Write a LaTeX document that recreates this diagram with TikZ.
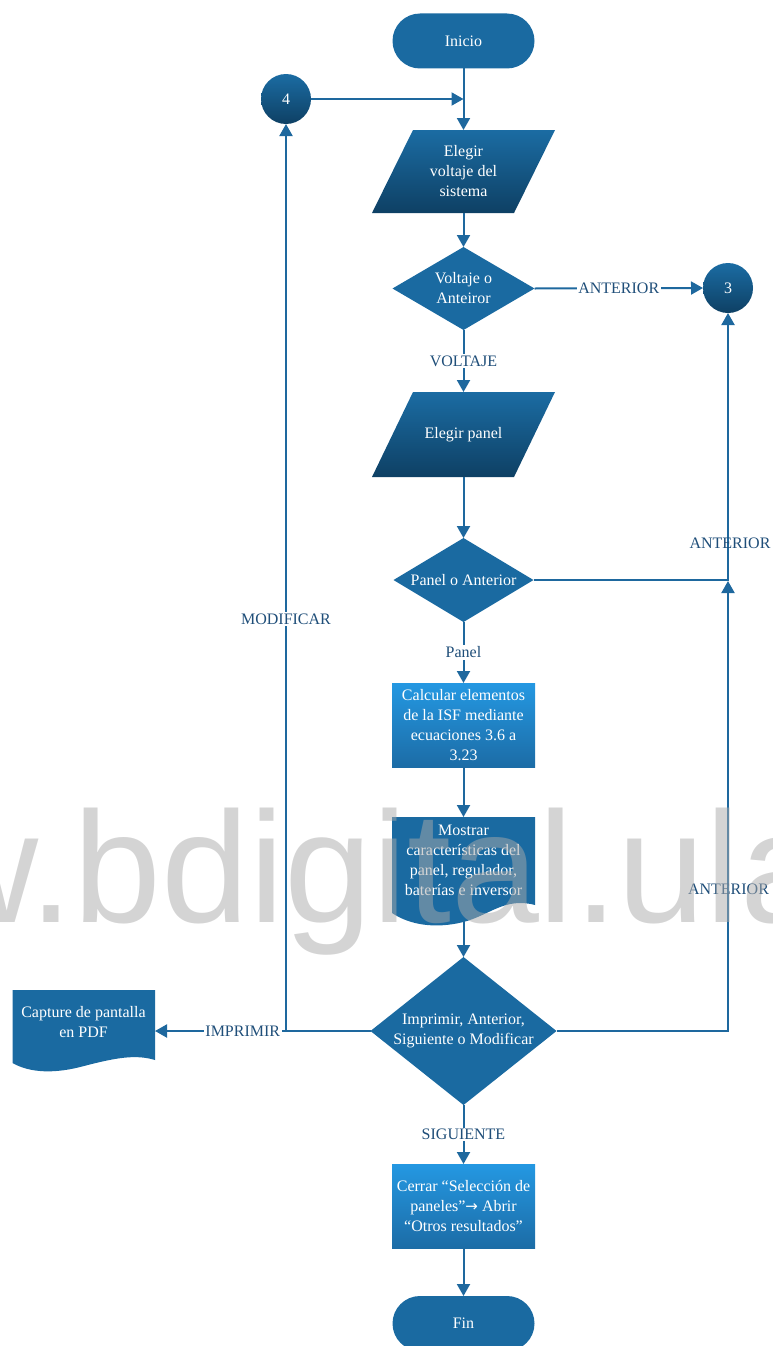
\documentclass[tikz,border=0pt]{standalone}
\usepackage{fontspec}
\setmainfont{Liberation Serif}
\newfontfamily\wmfont{Liberation Sans}
\newfontfamily\symfont{DejaVu Sans}
\usetikzlibrary{arrows.meta,backgrounds}
\definecolor{fblue}{RGB}{26,106,161}
\definecolor{gtop}{RGB}{27,108,163}
\definecolor{gbot}{RGB}{14,64,100}
\definecolor{btop}{RGB}{36,152,226}
\definecolor{bbot}{RGB}{28,108,166}
\definecolor{lblue}{RGB}{30,104,158}
\definecolor{lbl}{RGB}{31,78,121}
\definecolor{wm}{RGB}{170,170,170}
\begin{document}
\begin{tikzpicture}[x=1pt,y=-1pt,
  every node/.style={font=\fontsize{16}{20}\selectfont, align=center, inner sep=0pt, outer sep=0pt},
  txt/.style={text=white},
  term/.style={txt, rectangle, rounded corners=27.5pt, fill=fblue, minimum width=142pt, minimum height=55pt},
  conn/.style={txt, circle, minimum size=50pt, top color=gtop, bottom color=gbot},
  holder/.style={txt, rectangle, draw=none},
  gradbox/.style={txt, rectangle, minimum width=143pt, minimum height=84pt, top color=btop, bottom color=bbot},
  arr/.style={draw=lblue, line width=2pt, -{Triangle[width=13pt,length=12pt]}},
  ln/.style={draw=lblue, line width=2pt},
  lab/.style={text=lbl, fill=white, inner sep=1.5pt}
]
\useasboundingbox (0,0) rectangle (772,1346);

% nodes
\node[term] (ini) at (463.5,41) {Inicio};
\node[conn] (c4) at (286,99) {4};
\node[conn] (c3) at (728,288) {3};
\node[holder, minimum width=183pt, minimum height=83pt] (p1) at (463.5,171.5) {Elegir\\voltaje del\\sistema};
\node[holder, minimum width=142pt, minimum height=83pt] (d1) at (463.5,288.5) {Voltaje o\\Anteiror};
\node[holder, minimum width=183pt, minimum height=85pt] (p2) at (463.5,434.5) {Elegir panel};
\node[holder, minimum width=140pt, minimum height=84pt] (d2) at (463.5,580) {Panel o Anterior};
\node[gradbox] (r1) at (463.5,725) {Calcular elementos\\de la ISF mediante\\ecuaciones 3.6 a\\3.23};
\node[holder, minimum width=143pt, minimum height=86pt] (doc1) at (463.5,860) {Mostrar\\características del\\panel, regulador,\\baterías e inversor};
\node[holder, minimum width=186pt, minimum height=148pt] (d3) at (463.5,1031) {Imprimir, Anterior,\\Siguiente o Modificar};
\node[holder, minimum width=143pt, minimum height=65pt] (doc2) at (83.5,1022.5) {Capture de pantalla\\en PDF};
\node[gradbox] (r2) at (463.5,1206) {Cerrar “Selección de\\paneles”{\symfont\fontsize{15}{20}\selectfont →} Abrir\\“Otros resultados”};
\node[term] (fin) at (463.5,1323.5) {Fin};

% shapes behind texts
\begin{scope}[on background layer]
  \shade[top color=gtop, bottom color=gbot] ([xshift=41pt]p1.north west) -- (p1.north east) -- ([xshift=-41pt]p1.south east) -- (p1.south west) -- cycle;
  \shade[top color=gtop, bottom color=gbot] ([xshift=41pt]p2.north west) -- (p2.north east) -- ([xshift=-41pt]p2.south east) -- (p2.south west) -- cycle;
  \fill[fblue] (d1.north) -- (d1.east) -- (d1.south) -- (d1.west) -- cycle;
  \fill[fblue] (d2.north) -- (d2.east) -- (d2.south) -- (d2.west) -- cycle;
  \fill[fblue] (d3.north) -- (d3.east) -- (d3.south) -- (d3.west) -- cycle;
  \fill[fblue] (392,817) -- (535,817) -- (535,905) .. controls (505,897) and (490,915) .. (463.5,922) .. controls (435,929) and (410,925) .. (392,913) -- cycle;
  \fill[fblue] (12.5,990) -- (155,990) -- (155,1060) .. controls (135,1054) and (115,1058) .. (84,1066) .. controls (55,1074) and (30,1073) .. (12.5,1063) -- cycle;
\end{scope}

% connectors
\draw[arr] (ini.south) -- (p1.north);
\draw[arr] (c4.east) -- (c4.east -| ini.south);
\draw[arr] (p1.south) -- (d1.north);
\draw[arr] (d1.east) -- node[lab] (lab1) {ANTERIOR} (c3.west);
\draw[arr] (d1.south) -- node[lab] (lab2) {VOLTAJE} (p2.north);
\draw[arr] (p2.south) -- (d2.north);
\draw[arr] (d2.east) -| (c3.south);
\node[lab, fill=none] (lab3) at (730,543) {ANTERIOR};
\draw[arr] (d2.south) -- node[lab] (lab4) {Panel} (r1.north);
\draw[arr] (r1.south) -- (doc1.north);
\coordinate (doc1b) at (463.5,921);
\draw[arr] (doc1b) -- (d3.north);
\coordinate (j3) at (c3.south |- d2.east);
\draw[arr] (d3.east) -| ([yshift=-1pt]j3);
\node[lab, fill=none] (lab5) at (728.5,889) {ANTERIOR};
\coordinate (j4) at (c4.south |- d3.west);
\draw[ln] (d3.west) -- (j4);
\draw[arr] (j4) -- (c4.south);
\node[lab] (lab6) at (286,619) {MODIFICAR};
\draw[arr] (j4) -- node[lab, pos=0.33] (lab7) {IMPRIMIR} (j4 -| doc2.east);
\draw[arr] (d3.south) -- node[lab] (lab8) {SIGUIENTE} (r2.north);
\draw[arr] (r2.south) -- (fin.north);

% watermark
\node[font=\wmfont\fontsize{158}{158}\selectfont, text=wm, opacity=0.5, anchor=base west, inner sep=0pt] (wmk) at (-304,922) {www.bdigital.ula.ve};
\end{tikzpicture}
\end{document}
